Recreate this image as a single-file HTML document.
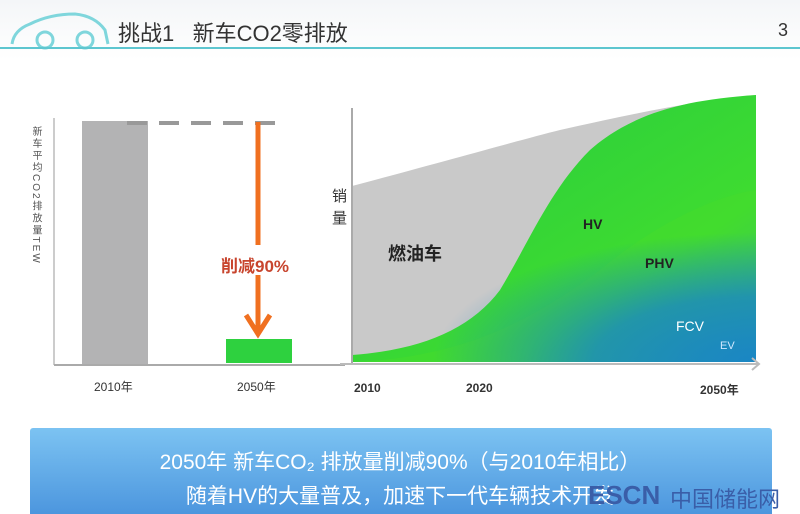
<!DOCTYPE html>
<html><head><meta charset="utf-8"><style>
body{margin:0;width:800px;height:514px;background:#fff;overflow:hidden;position:relative;font-family:"Liberation Sans","Noto Sans CJK SC",sans-serif}
.t{position:absolute;white-space:nowrap}
</style></head><body>
<svg width="800" height="514" style="position:absolute;left:0;top:0">
<defs>
<linearGradient id="bg" x1="0" y1="0" x2="0" y2="1"><stop offset="0" stop-color="#f4f6f8"/><stop offset="1" stop-color="#fff"/></linearGradient>
<linearGradient id="gr" x1="0" y1="0" x2="1" y2="1"><stop offset="0.3" stop-color="#2fd13a"/><stop offset="0.7" stop-color="#3fdc30"/><stop offset="1" stop-color="#2ea0b0"/></linearGradient>
<linearGradient id="box" x1="0" y1="0" x2="0" y2="1"><stop offset="0" stop-color="#7cc3f2"/><stop offset="1" stop-color="#4a94dd"/></linearGradient>
<radialGradient id="blu" cx="1" cy="1" r="0.8"><stop offset="0" stop-color="#1a86c4"/><stop offset="0.5" stop-color="#1a86c4" stop-opacity="0.8"/><stop offset="1" stop-color="#1a86c4" stop-opacity="0"/></radialGradient>
</defs>
<rect x="0" y="0" width="800" height="60" fill="url(#bg)"/>
<path d="M12 44 Q14 30 30 24 Q50 14 75 14 Q95 16 105 30 L108 44" fill="none" stroke="#7fd6dc" stroke-width="3"/>
<circle cx="45" cy="40" r="8" fill="none" stroke="#7fd6dc" stroke-width="3"/>
<circle cx="85" cy="40" r="8" fill="none" stroke="#7fd6dc" stroke-width="3"/>
<line x1="0" y1="48" x2="800" y2="48" stroke="#5ec6d0" stroke-width="2"/>
<line x1="54" y1="118" x2="54" y2="365" stroke="#ccc" stroke-width="2"/>
<line x1="54" y1="365" x2="345" y2="365" stroke="#aaa" stroke-width="2"/>
<rect x="82" y="121" width="66" height="243" fill="#b3b3b4"/>
<line x1="127" y1="123" x2="275" y2="123" stroke="#999" stroke-width="4" stroke-dasharray="20,12"/>
<rect x="226" y="339" width="66" height="24" fill="#2ed13f"/>
<line x1="258" y1="122" x2="258" y2="245" stroke="#f07020" stroke-width="5"/>
<line x1="258" y1="275" x2="258" y2="332" stroke="#f07020" stroke-width="5"/>
<path d="M246 315 L258 334 L270 315" fill="none" stroke="#f07020" stroke-width="5"/>
<path d="M352 186 C450 160 520 140 560 130 C640 112 700 100 756 95 L756 362 L352 362 Z" fill="#c9c9c9"/>
<path d="M352 355 C420 350 470 330 500 290 C530 240 550 190 590 150 C630 115 680 100 756 95 L756 362 L352 362 Z" fill="url(#gr)"/>
<path d="M352 362 C450 358 520 330 600 270 C660 220 720 195 756 190 L756 362 Z" fill="#45dc2c" opacity="0.5"/>
<rect x="352" y="200" width="404" height="162" fill="url(#blu)"/>
<line x1="352" y1="108" x2="352" y2="364" stroke="#aaa" stroke-width="2"/>
<line x1="340" y1="364" x2="758" y2="364" stroke="#bbb" stroke-width="2"/>
<path d="M752 358 L759 364 L752 370" fill="none" stroke="#bbb" stroke-width="2"/>
<rect x="30" y="428" width="742" height="90" rx="3" fill="url(#box)"/>
</svg>
<div class="t" style="left:118px;top:16px;font-size:22px;color:#333">挑战1&nbsp;&nbsp;&nbsp;新车CO2零排放</div>
<div class="t" style="left:778px;top:20px;font-size:18px;color:#333">3</div>
<div class="t" style="left:28px;top:126px;font-size:10px;color:#555;writing-mode:vertical-rl;letter-spacing:2px">新车平均CO2排放量TEW</div>
<div class="t" style="left:221px;top:252px;font-size:17px;color:#c8452e;font-weight:bold">削减90%</div>
<div class="t" style="left:94px;top:378px;font-size:12px;color:#333">2010年</div>
<div class="t" style="left:237px;top:378px;font-size:12px;color:#333">2050年</div>
<div class="t" style="left:332px;top:186px;font-size:15px;color:#333;line-height:22px">销<br>量</div>
<div class="t" style="left:388px;top:240px;font-size:18px;color:#222;font-weight:bold">燃油车</div>
<div class="t" style="left:583px;top:216px;font-size:14px;color:#222;font-weight:bold">HV</div>
<div class="t" style="left:645px;top:255px;font-size:14px;color:#222;font-weight:bold">PHV</div>
<div class="t" style="left:676px;top:318px;font-size:14px;color:#fff">FCV</div>
<div class="t" style="left:720px;top:340px;font-size:11px;color:#cfe8ff">EV</div>
<div class="t" style="left:354px;top:381px;font-size:12px;color:#333;font-weight:bold">2010</div>
<div class="t" style="left:466px;top:381px;font-size:12px;color:#333;font-weight:bold">2020</div>
<div class="t" style="left:700px;top:381px;font-size:12px;color:#333;font-weight:bold">2050年</div>
<div class="t" style="left:0;width:800px;text-align:center;top:446px;font-size:21px;color:#fff">2050年 新车CO₂ 排放量削减90%（与2010年相比）</div>
<div class="t" style="left:0;width:800px;text-align:center;top:480px;font-size:21px;color:#fff">随着HV的大量普及，加速下一代车辆技术开发</div>
<div class="t" style="left:588px;top:480px;font-size:26px;color:#3a5ea8;font-weight:bold">ESCN</div>
<div class="t" style="left:670px;top:482px;font-size:22px;color:#3a5ea8">中国储能网</div>
</body></html>
